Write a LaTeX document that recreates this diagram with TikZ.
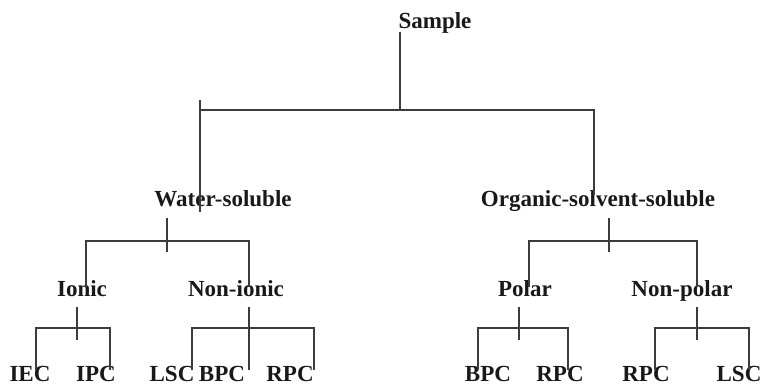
\documentclass[tikz,border=0pt]{standalone}
\usepackage{fontspec}
\setmainfont{Liberation Serif}
\definecolor{linegray}{RGB}{60,60,60}
\definecolor{textblack}{RGB}{25,25,25}

\begin{document}
\begin{tikzpicture}[font=\fontsize{13.1pt}{15pt}\selectfont\bfseries,
  lbl/.style={anchor=base, inner sep=0pt, text=textblack},
  tree/.style={line width=0.8pt, draw=linegray}]
\useasboundingbox (0,0) rectangle (15.24,7.72);

% Labels
\node[lbl] (sample) at (8.70, 7.14) {Sample};
\node[lbl] (water) at (4.46, 3.58) {Water-soluble};
\node[lbl] (organic) at (11.96, 3.58) {Organic-solvent-soluble};
\node[lbl] (ionic) at (1.64, 1.78) {Ionic};
\node[lbl] (nonionic) at (4.72, 1.78) {Non-ionic};
\node[lbl] (polar) at (10.50, 1.78) {Polar};
\node[lbl] (nonpolar) at (13.64, 1.78) {Non-polar};
\node[lbl] (iec) at (0.60, 0.09) {IEC};
\node[lbl] (ipc) at (1.92, 0.09) {IPC};
\node[lbl] (lsc1) at (3.44, 0.09) {LSC};
\node[lbl] (bpc1) at (4.44, 0.09) {BPC};
\node[lbl] (rpc1) at (5.80, 0.09) {RPC};
\node[lbl] (bpc2) at (9.76, 0.09) {BPC};
\node[lbl] (rpc2) at (11.20, 0.09) {RPC};
\node[lbl] (rpc3) at (12.92, 0.09) {RPC};
\node[lbl] (lsc2) at (14.78, 0.09) {LSC};

% Sample split
\coordinate (sample-top) at (8.0, 7.08);
\coordinate (sample-mid) at (8.0, 5.52);
\coordinate (water-top) at (4.0, 5.72);
\coordinate (water-end) at (4.0, 3.48);
\coordinate (organic-end) at (11.88, 3.82);
\draw[tree] (sample-top) -- (sample-mid);
\draw[tree] (water-top) -- (water-end);
\draw[tree] (water-top |- sample-mid) -| (organic-end);

% Water-soluble split
\coordinate (water-t1) at (3.34, 3.36);
\coordinate (water-t2) at (3.34, 2.68);
\coordinate (ionic-end) at (1.72, 1.98);
\coordinate (nonionic-end) at (4.98, 1.98);
\draw[tree] (water-t1) -- (water-t2);
\draw[tree] (ionic-end) -- ++(0, 0.92) -| (nonionic-end);

% Organic-solvent-soluble split
\coordinate (organic-t1) at (12.18, 3.36);
\coordinate (organic-t2) at (12.18, 2.68);
\coordinate (polar-end) at (10.58, 1.98);
\coordinate (nonpolar-end) at (13.94, 1.98);
\draw[tree] (organic-t1) -- (organic-t2);
\draw[tree] (polar-end) -- ++(0, 0.92) -| (nonpolar-end);

% Ionic
\coordinate (ionic-t1) at (1.54, 1.58);
\coordinate (ionic-t2) at (1.54, 0.92);
\coordinate (iec-end) at (0.72, 0.32);
\coordinate (ipc-end) at (2.20, 0.32);
\draw[tree] (ionic-t1) -- (ionic-t2);
\draw[tree] (iec-end) -- ++(0, 0.84) -| (ipc-end);

% Non-ionic
\coordinate (nonionic-t1) at (4.98, 1.58);
\coordinate (bpc1-end) at (4.98, 0.32);
\coordinate (lsc1-end) at (3.84, 0.32);
\coordinate (rpc1-end) at (6.28, 0.32);
\draw[tree] (nonionic-t1) -- (bpc1-end);
\draw[tree] (lsc1-end) -- ++(0, 0.84) -| (rpc1-end);

% Polar
\coordinate (polar-t1) at (10.38, 1.58);
\coordinate (polar-t2) at (10.38, 0.92);
\coordinate (bpc2-end) at (9.56, 0.32);
\coordinate (rpc2-end) at (11.36, 0.32);
\draw[tree] (polar-t1) -- (polar-t2);
\draw[tree] (bpc2-end) -- ++(0, 0.84) -| (rpc2-end);

% Non-polar
\coordinate (nonpolar-t1) at (13.94, 1.58);
\coordinate (nonpolar-t2) at (13.94, 0.92);
\coordinate (rpc3-end) at (13.10, 0.32);
\coordinate (lsc2-end) at (14.98, 0.32);
\draw[tree] (nonpolar-t1) -- (nonpolar-t2);
\draw[tree] (rpc3-end) -- ++(0, 0.84) -| (lsc2-end);
\end{tikzpicture}
\end{document}
